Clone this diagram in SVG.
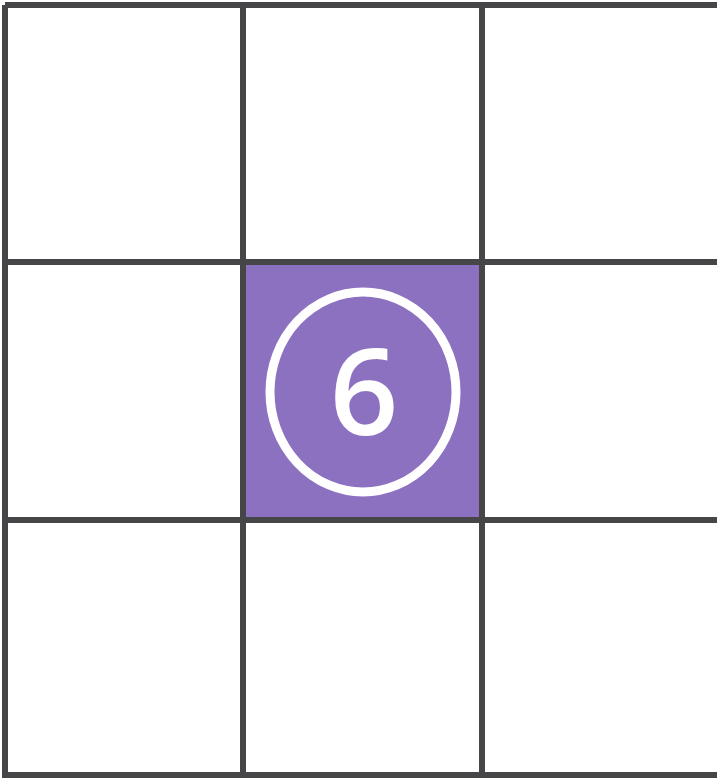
<svg xmlns="http://www.w3.org/2000/svg" width="717" height="780" viewBox="0 0 717 780">
<style>
.g{stroke:#464548;stroke-width:6;fill:none}
.lbl{font-family:"Open Sans","Noto Sans",sans-serif;font-size:120px;font-weight:600;fill:#ffffff;text-anchor:middle}
</style>
<rect x="0" y="0" width="717" height="780" fill="#ffffff"/>
<g id="cell-center">
<rect x="243" y="262" width="239" height="258" fill="#8d71c1"/>
<ellipse cx="363" cy="392" rx="93" ry="100" fill="none" stroke="#ffffff" stroke-width="9"/>
<text class="lbl" x="364" y="435">6</text>
</g>
<g id="grid">
<path class="g" d="M5,5 H717 M5,5 V775 H717 M243,5 V775 M482,5 V775 M5,262 H717 M5,520 H717"/>
</g>
</svg>
